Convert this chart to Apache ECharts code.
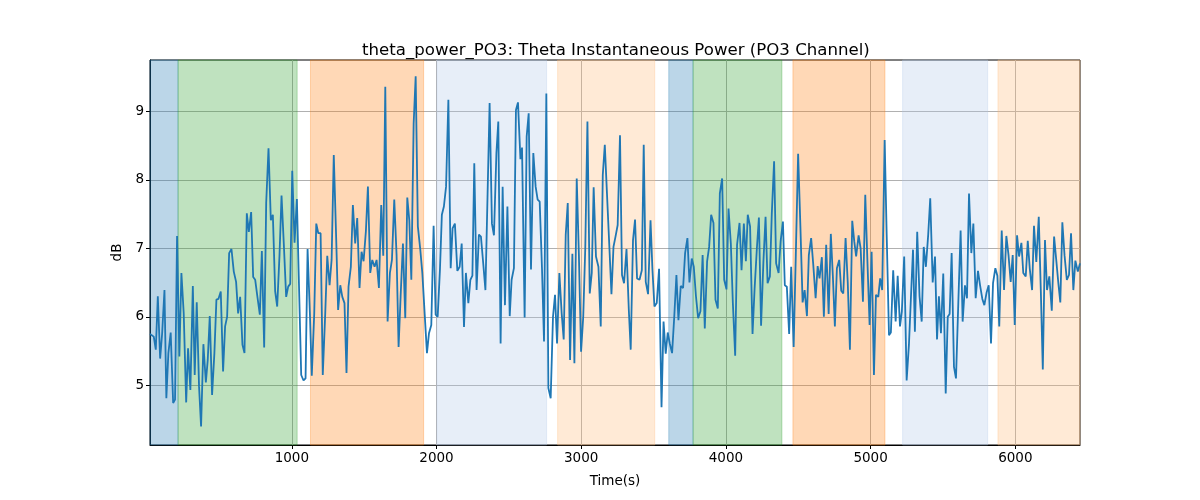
<!DOCTYPE html>
<html>
<head>
<meta charset="utf-8">
<script src="https://cdn.jsdelivr.net/npm/echarts@6/dist/echarts.min.js"></script>
<style>html,body{margin:0;padding:0;background:#fff;}#c{width:1200px;height:500px;}</style>
</head>
<body>
<div id="c"></div>
<script>
const titleText = 'theta_power_PO3: Theta Instantaneous Power (PO3 Channel)';
const xLabel = 'Time(s)';
const yLabel = 'dB';
const xTicks = [1000, 2000, 3000, 4000, 5000, 6000];
const yTicks = [5, 6, 7, 8, 9];
const xRange = [20, 6447];
const yRange = [4.128, 9.749];

const times = [20,32,46,60,74,90,104,120,133,147,163,180,193,207,223,237,253,270,283,299,316,329,343,359,373,389,406,419,433,449,465,479,493,509,525,539,553,567,583,599,615,629,
643,659,673,689,703,719,733,747,763,779,793,809,823,839,855,869,885,899,915,929,945,961,975,989,1003,1019,1035,1048,1065,1081,1095,1109,1125,1138,1155,1169,1183,1199,1214,1231,1245,1261,1275,1290,
1307,1320,1335,1349,1364,1378,1392,1408,1422,1438,1452,1468,1482,1496,1512,1526,1542,1556,1572,1586,1602,1618,1632,1646,1662,1678,1692,1708,1724,1738,1752,1768,1784,1798,1812,1826,1842,1856,1871,1887,1902,1918,1934,1948,1964,
1980,1994,2008,2024,2037,2051,2066,2082,2098,2111,2127,2144,2160,2174,2190,2203,2220,2234,2248,2261,2277,2293,2307,2322,2338,2353,2367,2383,2397,2414,2427,2443,2457,2473,2490,2506,2519,2535,2549,2563,2580,2591,2609,2623,2637,
2653,2669,2685,2699,2713,2729,2743,2759,2773,2789,2805,2819,2833,2849,2865,2879,2893,2907,2923,2939,2953,2969,2984,2999,3014,3028,3043,3059,3073,3086,3102,3119,3135,3149,3163,3178,3195,3209,3223,3237,3252,3268,3282,3296,
3313,3329,3342,3358,3372,3386,3403,3419,3432,3446,3462,3479,3492,3506,3522,3538,3555,3569,3584,3598,3612,3628,3643,3658,3672,3688,3704,3718,3734,3748,3764,3778,3793,3808,3824,3839,3854,3870,3884,3898,3914,3928,3944,3958,
3974,3988,4004,4018,4034,4048,4064,4077,4094,4108,4124,4138,4151,4167,4184,4198,4214,4228,4243,4259,4274,4288,4304,4317,4333,4347,4364,4378,4394,4407,4421,4437,4451,4468,4483,4499,4515,4530,4544,4560,4573,4589,
4603,4620,4634,4647,4663,4677,4693,4710,4725,4739,4753,4767,4783,4797,4811,4827,4842,4857,4873,4887,4900,4917,4931,4947,4963,4978,4993,5007,5023,5037,5053,5066,5080,5097,5111,5127,5140,5156,5173,5187,5203,5216,5232,5249,
5265,5279,5293,5306,5322,5338,5353,5367,5382,5398,5412,5429,5445,5459,5472,5486,5502,5519,5533,5546,5560,5576,5590,5606,5622,5636,5652,5666,5680,5696,5710,5726,5742,5757,5772,5786,5801,5816,5832,5846,5862,5876,5889,5906,5922,
5938,5953,5968,5982,5996,6012,6026,6042,6055,6072,6086,6100,6116,6129,6145,6162,6176,6190,6205,6219,6235,6252,6268,6282,6297,6311,6325,6340,6356,6371,6385,6401,6415,6432,6447];

const values = [5.75,5.74,5.71,5.52,6.30,5.39,5.76,6.39,4.81,5.47,5.77,4.74,4.79,7.18,5.42,6.64,6.05,4.75,5.54,4.93,6.45,5.15,6.21,4.98,4.40,5.60,5.04,5.37,6.01,4.86,5.47,6.25,6.26,6.37,5.20,5.86,6.00,6.93,6.99,6.66,6.51,6.05,
6.29,5.59,5.47,7.51,7.24,7.53,6.58,6.54,6.28,6.03,6.96,5.55,7.66,8.46,7.41,7.49,6.37,6.15,6.90,7.77,7.05,6.29,6.44,6.48,8.13,7.08,7.72,6.60,5.15,5.07,5.10,6.99,6.05,5.14,6.05,7.36,7.22,7.22,5.15,6.05,6.89,6.46,6.83,8.36,
7.12,6.10,6.46,6.29,6.20,5.18,6.44,6.73,7.63,7.07,7.44,6.42,6.95,6.81,7.25,7.90,6.64,6.83,6.73,6.83,6.42,7.63,6.89,9.36,5.93,6.64,6.83,7.71,6.90,5.56,6.30,7.07,5.98,7.74,7.41,6.54,8.82,9.51,7.32,7.00,6.64,6.05,5.47,5.76,5.88,
7.33,6.03,6.00,6.70,7.49,7.61,7.90,9.17,6.71,7.29,7.36,6.67,6.73,7.07,5.85,6.64,6.20,6.54,6.60,8.24,6.39,7.20,7.17,6.80,6.39,7.80,9.12,7.36,7.19,8.39,8.85,5.61,7.90,6.17,7.61,6.01,6.54,6.71,9.02,9.13,8.30,8.47,5.99,8.63,8.97,
6.69,8.39,7.90,7.71,7.68,6.70,5.64,9.26,4.96,4.81,6.00,6.32,5.61,6.64,6.05,5.67,7.20,7.66,5.37,6.92,5.32,8.02,6.90,5.49,6.00,7.00,8.85,6.34,6.64,7.89,6.88,6.73,5.86,8.07,8.51,7.80,7.00,6.33,7.02,7.17,7.34,8.65,6.61,6.49,
6.99,6.10,5.52,7.12,7.42,6.56,6.54,6.68,8.51,6.51,6.33,7.41,6.70,6.15,6.20,6.70,4.68,5.93,5.46,5.77,5.61,5.47,6.00,6.61,5.95,6.45,6.42,6.93,7.15,6.50,6.85,6.73,6.30,5.98,6.08,6.90,5.83,6.81,7.02,7.49,7.37,6.25,6.12,7.80,
8.02,6.54,6.40,7.58,7.07,6.20,5.43,7.05,7.37,6.68,7.36,6.81,7.49,7.32,5.75,6.40,7.00,7.45,5.87,6.80,7.46,6.49,6.59,7.50,8.27,6.78,6.64,7.10,7.39,6.46,6.44,5.75,6.73,5.56,6.90,8.38,7.30,6.21,6.39,6.01,6.90,7.15,
6.78,6.27,6.74,6.56,6.87,6.00,7.05,6.04,7.21,6.60,5.86,6.71,6.83,6.38,6.34,7.15,6.50,5.52,7.40,7.10,6.88,7.19,7.00,6.22,7.78,6.80,5.88,6.95,5.15,6.32,6.29,6.56,6.39,8.58,7.20,5.73,5.77,6.68,5.93,6.60,5.86,6.08,6.88,5.07,
5.60,6.30,6.98,5.78,7.24,6.30,5.93,7.02,6.73,7.20,7.73,6.50,6.88,5.67,6.30,5.76,6.63,4.88,6.00,6.04,6.93,5.27,5.10,6.20,7.26,5.93,6.46,6.27,7.80,6.93,7.36,6.27,6.67,6.45,6.26,6.17,6.35,6.46,5.61,6.49,6.71,6.60,5.86,7.26,6.39,
7.18,6.90,6.51,6.90,5.88,7.19,6.88,7.08,6.64,6.59,7.11,6.70,6.39,7.33,6.80,7.46,6.40,5.23,7.12,6.39,6.59,6.09,7.17,6.85,6.50,6.21,7.38,6.90,6.54,6.61,7.22,6.39,6.82,6.66,6.78];

// shaded phases: [start, end, phase index]
const spanStarts = [20, 214, 1129, 2003, 2837, 3605, 3773, 4463, 5221, 5880];
const spanEnds   = [214, 1037, 1911, 2761, 3508, 3773, 4387, 5099, 5809, 6447];
const spanPhase  = [0, 1, 2, 3, 4, 0, 1, 2, 3, 4];

const phaseColors = ['rgba(31,119,180,0.3)', 'rgba(44,160,44,0.3)', 'rgba(255,127,14,0.3)', 'rgba(174,199,232,0.3)', 'rgba(255,187,120,0.3)'];

const lineData = times.map((t, i) => [t, values[i]]);
const areaData = spanStarts.map((s, i) => [
  { xAxis: s, itemStyle: { color: phaseColors[spanPhase[i]], borderColor: phaseColors[spanPhase[i]], borderWidth: 1 } },
  { xAxis: spanEnds[i] }
]);

const FONT = 'DejaVu Sans';
const chart = echarts.init(document.getElementById('c'), null, { renderer: 'canvas' });
chart.setOption({
  animation: false,
  backgroundColor: '#fff',
  title: {
    text: titleText, left: 357, top: 37,
    textStyle: { fontFamily: FONT, fontSize: 16.6, fontWeight: 'normal', color: '#000' }
  },
  grid: { left: 150, right: 120, top: 60, bottom: 55, show: true, borderColor: '#000', borderWidth: 1, backgroundColor: 'transparent' },
  xAxis: {
    type: 'value', min: xRange[0], max: xRange[1],
    name: xLabel, nameLocation: 'middle', nameGap: 29,
    nameTextStyle: { fontFamily: FONT, fontSize: 13.5, color: '#000' },
    axisLine: { show: true, lineStyle: { color: '#000', width: 1 } },
    axisTick: { show: true, length: 4, customValues: xTicks, lineStyle: { color: '#000' } },
    axisLabel: { customValues: xTicks, margin: 6, fontFamily: FONT, fontSize: 13.5, color: '#000', formatter: v => String(v) },
    splitLine: { show: true, lineStyle: { color: '#b0b0b0', width: 1 } }
  },
  yAxis: {
    type: 'value', min: yRange[0], max: yRange[1],
    name: yLabel, nameLocation: 'middle', nameGap: 26,
    nameTextStyle: { fontFamily: FONT, fontSize: 13.5, color: '#000' },
    axisLine: { show: true, lineStyle: { color: '#000', width: 1 } },
    axisTick: { show: true, length: 4, customValues: yTicks, lineStyle: { color: '#000' } },
    axisLabel: { customValues: yTicks, margin: 6, fontFamily: FONT, fontSize: 13.5, color: '#000', formatter: v => String(v) },
    splitLine: { show: true, lineStyle: { color: '#b0b0b0', width: 1 } }
  },
  series: [
    {
      type: 'line', data: [], z: 1, silent: true,
      markArea: { silent: true, data: areaData }
    },
    {
      type: 'line', data: lineData, z: 3, showSymbol: false, symbol: 'none',
      lineStyle: { color: '#1f77b4', width: 1.8 }
    }
  ]
});
</script>
</body>
</html>
